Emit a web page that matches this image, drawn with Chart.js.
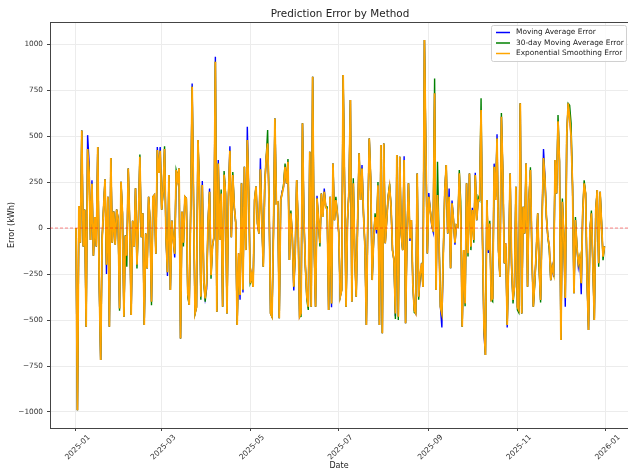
<!DOCTYPE html>
<html>
<head>
<meta charset="utf-8">
<script src="https://cdn.jsdelivr.net/npm/chart.js@4.4.1/dist/chart.umd.min.js"></script>
<style>
  html, body { margin: 0; padding: 0; background: #fff; }
  #chart { display: block; }
</style>
</head>
<body>
<canvas id="chart" width="628" height="472"></canvas>
<script>
// Errores diarios, 2025-01-01 .. 2025-12-31 (índice = día del año)
const maError = [
    0, -990, 120, -80, 530, -100, 100, -536, 505, 360,
    -65, 260, -150, 60, -100, 440, -300, -717, -60, 110,
    265, -250, 170, -536, 380, -80, 90, -90, 100, 50,
    -437, 252, 80, -482, -40, -150, 324, 20, -473, 40,
    -100, 216, -200, 40, 388, -50, 80, -527, -30, -220,
    170, 40, -400, 170, 180, -140, 440, 300, 440, 100,
    200, 430, -50, -260, 288, -337, 40, -60, -160, 315,
    260, 324, -600, 89, -80, 170, 160, -355, -418, 100,
    786, 130, -464, -430, 478, 224, -373, 255, -283, -382,
    -330, 40, 215, -256, -100, -50, 931, -455, 370, -65,
    188, -428, 290, 188, -464, 170, 445, -50, 288, 116,
    30, -527, -137, -390, 243, -350, 333, -120, 551, 188,
    -300, -250, -320, 152, 225, 25, -30, 379, 40, -210,
    233, 380, 460, 134, -464, -482, -30, 596, 134, 140,
    -491, 152, 200, 225, 333, 243, 360, -174, 80, -47,
    -340, -137, 261, 25, -482, -464, 569, 43, -210, -373,
    -428, 415, -428, 823, -83, -428, 175, 43, -83, 188,
    70, 215, 116, 98, -446, 170, -430, 351, 43, 152,
    80, -30, -373, -337, 832, 225, -428, 43, 200, 696,
    -400, 243, -140, -373, 43, 406, 152, 342, 80, -100,
    -527, 43, 487, 261, -283, -65, 60, -30, 233, -527,
    451, -572, 460, -83, 43, 170, 225, 116, -120, -174,
    -480, 397, -482, 388, -30, -120, 390, -518, -30, 243,
    -70, 43, -300, -446, -464, 297, -373, -280, -192, -320,
    1022, 406, -138, 190, 98, 15, -20, 732, -337, 180,
    -60, -428, -540, -137, 200, 342, -30, 215, -219, 150,
    43, -90, 16, 7, 297, 60, -536, -120, -410, 243,
    -137, 297, -101, 110, -65, 300, 43, 152, 152, 641,
    -65, -575, -690, 152, -135, 25, -391, -382, 350, 152,
    510, -120, -265, 605, 297, -192, -83, -540, -174, 297,
    -210, -391, -319, 225, -428, -446, 678, -464, 116, -30,
    351, -319, 152, 315, -137, -428, -283, -137, 80, -210,
    -391, 43, 430, 280, 60, -47, -101, -283, -210, -265,
    370, 188, 580, 360, -609, 143, -47, -428, 496, 678,
    600, 500, 225, -355, 43, -101, -210, -156, -360, 80,
    243, 188, -283, -554, -10, 80, -200, -500, 98, 206,
    -192, 197, 20, -156, -100
];

const ma30Error = [
    0, -990, 120, -80, 530, -100, 100, -536, 430, 300,
    -65, 240, -150, 60, -100, 440, -300, -717, -60, 110,
    265, -200, 170, -536, 380, -80, 90, -90, 100, 50,
    -450, 252, 80, -482, -40, -210, 324, 20, -473, 40,
    -100, 216, -220, 40, 400, -50, 80, -527, -30, -220,
    170, 40, -420, 170, 180, -140, 424, 300, 420, 100,
    200, 445, -50, -240, 288, -337, 40, -60, -140, 315,
    280, 324, -600, 89, -100, 170, 160, -375, -418, 100,
    768, 130, -464, -430, 478, 224, -390, 234, -283, -400,
    -300, 40, 197, -275, -100, -50, 904, -455, 351, -65,
    210, -428, 310, 188, -464, 170, 420, -50, 305, 116,
    30, -527, -155, -364, 243, -335, 333, -120, 478, 188,
    -300, -275, -320, 152, 225, 25, -30, 320, 40, -210,
    233, 380, 533, 134, -464, -482, -30, 596, 134, 140,
    -491, 152, 188, 240, 350, 243, 375, -174, 95, -47,
    -319, -137, 261, 25, -482, -480, 569, 43, -210, -390,
    -445, 415, -428, 823, -83, -428, 161, 43, -100, 188,
    60, 197, 116, 115, -446, 170, -410, 351, 43, 170,
    80, -30, -373, -337, 832, 225, -428, 43, 200, 696,
    -400, 270, -140, -373, 43, 406, 152, 324, 80, -100,
    -527, 43, 487, 261, -283, -65, 80, -10, 250, -527,
    451, -572, 460, -83, 43, 170, 240, 116, -120, -174,
    -495, 397, -500, 388, -30, -120, 370, -518, -30, 243,
    -57, 43, -300, -460, -464, 297, -390, -250, -210, -320,
    1022, 406, -138, 170, 98, 25, -20, 813, -337, 360,
    -30, -428, -464, -137, 200, 342, -30, 170, -219, 134,
    43, -80, 16, 7, 315, 143, -536, -120, -425, 243,
    -155, 297, -120, 98, -80, 288, 43, 170, 152, 705,
    -65, -540, -690, 152, -120, 40, -391, -400, 333, 170,
    487, -120, -265, 625, 297, -192, -100, -527, -174, 297,
    -192, -410, -319, 225, -445, -460, 678, -464, 116, -30,
    351, -319, 152, 330, -137, -428, -300, -137, 80, -225,
    -405, 43, 380, 261, 60, -47, -120, -283, -210, -247,
    370, 188, 614, 360, -609, 160, -47, -380, 496, 678,
    668, 569, 225, -355, 60, -101, -192, -156, -300, 80,
    260, 188, -283, -554, -10, 95, -200, -500, 98, 206,
    -210, 197, 35, -175, -100
];

const expError = [
    0, -990, 120, -80, 530, -100, 100, -536, 430, 300,
    -65, 240, -150, 60, -100, 440, -300, -717, -60, 110,
    265, -200, 170, -536, 380, -80, 90, -90, 100, 50,
    -437, 252, 80, -482, -40, -150, 324, 20, -473, 40,
    -100, 216, -200, 40, 388, -50, 80, -527, -30, -220,
    170, 40, -400, 170, 180, -140, 424, 300, 420, 100,
    200, 430, -50, -240, 288, -337, 40, -60, -140, 315,
    260, 324, -600, 89, -80, 170, 160, -355, -418, 100,
    768, 130, -464, -430, 478, 224, -373, 234, -283, -382,
    -300, 40, 197, -256, -100, -50, 904, -455, 351, -65,
    188, -428, 290, 188, -464, 170, 420, -50, 288, 116,
    30, -527, -137, -364, 243, -335, 333, -120, 478, 188,
    -300, -250, -320, 152, 225, 25, -30, 320, 40, -210,
    233, 380, 460, 134, -464, -482, -30, 596, 134, 140,
    -491, 152, 188, 225, 333, 243, 360, -174, 80, -47,
    -319, -137, 261, 25, -482, -464, 569, 43, -210, -373,
    -428, 415, -428, 823, -83, -428, 161, 43, -83, 188,
    60, 197, 116, 98, -446, 170, -410, 351, 43, 152,
    80, -30, -373, -337, 832, 225, -428, 43, 200, 696,
    -400, 243, -140, -373, 43, 406, 152, 324, 80, -100,
    -527, 43, 487, 261, -283, -65, 60, -10, 233, -527,
    451, -572, 460, -83, 43, 170, 225, 116, -120, -174,
    -464, 397, -482, 388, -30, -120, 370, -518, -30, 243,
    -57, 43, -300, -446, -464, 297, -373, -250, -192, -320,
    1022, 406, -138, 170, 98, 25, -20, 732, -337, 180,
    -60, -428, -464, -137, 200, 342, -30, 170, -219, 134,
    43, -80, 16, 7, 297, 60, -536, -120, -410, 243,
    -137, 297, -101, 98, -65, 288, 43, 152, 152, 641,
    -65, -540, -690, 152, -120, 25, -391, -382, 333, 152,
    487, -120, -265, 605, 297, -192, -83, -527, -174, 297,
    -192, -391, -319, 225, -428, -446, 678, -464, 116, -30,
    351, -319, 152, 315, -137, -428, -283, -137, 80, -210,
    -391, 43, 380, 261, 60, -47, -101, -283, -210, -247,
    370, 188, 580, 360, -609, 143, -47, -380, 496, 678,
    600, 500, 225, -355, 43, -101, -192, -156, -300, 80,
    243, 188, -283, -554, -10, 80, -200, -500, 98, 206,
    -192, 197, 20, -156, -100
];

// Marcas del eje X (días desde 2025-01-01) y sus etiquetas
const monthTicks = [0, 59, 120, 181, 243, 304, 365];
const monthLabels = ['2025-01', '2025-03', '2025-05', '2025-07', '2025-09', '2025-11', '2026-01'];
const yTicks = [-1000, -750, -500, -250, 0, 250, 500, 750, 1000];

const toPoints = arr => arr.map((v, i) => ({ x: i, y: v }));
const FONT = 'DejaVu Sans';

// Título, línea de cero, marco superior y leyenda
const extras = {
    id: 'extras',
    afterDatasetsDraw(chart) {
        const { ctx, chartArea: a, scales } = chart;
        const y0 = scales.y.getPixelForValue(0);
        ctx.save();
        ctx.strokeStyle = 'rgba(255,0,0,0.6)';
        ctx.lineWidth = 0.8;
        ctx.setLineDash([3, 2]);
        ctx.beginPath();
        ctx.moveTo(a.left, y0);
        ctx.lineTo(a.right, y0);
        ctx.stroke();
        ctx.setLineDash([]);

        ctx.strokeStyle = '#444';
        ctx.lineWidth = 1;
        ctx.beginPath();
        ctx.moveTo(a.left, a.top + 0.5);
        ctx.lineTo(a.right, a.top + 0.5);
        ctx.stroke();

        // título centrado sobre el área del gráfico
        ctx.fillStyle = '#222';
        ctx.font = '10.4px "' + FONT + '"';
        ctx.textAlign = 'center';
        ctx.textBaseline = 'middle';
        ctx.fillText('Prediction Error by Method', 340, 14);

        // leyenda
        const bx = 491, by = 25, bw = 135, bh = 36;
        ctx.fillStyle = 'rgba(255,255,255,0.85)';
        ctx.strokeStyle = '#d0d0d0';
        ctx.lineWidth = 1;
        ctx.beginPath();
        ctx.roundRect(bx + 0.5, by + 0.5, bw, bh, 2);
        ctx.fill();
        ctx.stroke();
        ctx.font = '7.4px "' + FONT + '"';
        ctx.textAlign = 'left';
        chart.data.datasets.forEach((ds, i) => {
            const ly = by + 7.5 + i * 10.5;
            ctx.strokeStyle = ds.borderColor;
            ctx.lineWidth = 1.5;
            ctx.beginPath();
            ctx.moveTo(bx + 5, ly);
            ctx.lineTo(bx + 19, ly);
            ctx.stroke();
            ctx.fillStyle = '#222';
            ctx.fillText(ds.label, bx + 25, ly);
        });
        ctx.restore();
    }
};

const ctx = document.getElementById('chart').getContext('2d');
const errorChart = new Chart(ctx, {
    type: 'line',
    data: {
        datasets: [
            {
                label: 'Moving Average Error',
                data: toPoints(maError),
                borderColor: '#0000ff',
                borderWidth: 1.4,
                pointRadius: 0,
                order: 3
            },
            {
                label: '30-day Moving Average Error',
                data: toPoints(ma30Error),
                borderColor: '#008000',
                borderWidth: 1.4,
                pointRadius: 0,
                order: 2
            },
            {
                label: 'Exponential Smoothing Error',
                data: toPoints(expError),
                borderColor: '#ffa500',
                borderWidth: 1.8,
                pointRadius: 0,
                order: 1
            }
        ]
    },
    options: {
        responsive: false,
        animation: false,
        devicePixelRatio: 1,
        layout: { padding: { left: 0, right: 0, top: 22, bottom: 0 } },
        scales: {
            x: {
                type: 'linear',
                min: -17.9,
                max: 380.2,
                afterBuildTicks: axis => {
                    axis.ticks = monthTicks.map(v => ({ value: v }));
                },
                afterFit: scale => { scale.height = 44; },
                ticks: {
                    autoSkip: false,
                    minRotation: 45,
                    maxRotation: 45,
                    padding: 2,
                    labelOffset: 13,
                    color: '#333',
                    font: { family: FONT, size: 7.6 },
                    callback: value => monthLabels[monthTicks.indexOf(value)]
                },
                grid: { color: '#ececec', tickColor: '#444', tickLength: 3 },
                border: { color: '#444' },
                title: {
                    display: true,
                    text: 'Date',
                    color: '#222',
                    font: { family: FONT, size: 8 },
                    padding: { top: 0, bottom: 1 }
                }
            },
            y: {
                min: -1087,
                max: 1120,
                afterBuildTicks: axis => {
                    axis.ticks = yTicks.map(v => ({ value: v }));
                },
                afterFit: scale => { scale.width = 50; },
                ticks: {
                    padding: 4,
                    color: '#333',
                    font: { family: FONT, size: 7.3 },
                    callback: value => String(value).replace('-', '\u2212')
                },
                grid: { color: '#ececec', tickColor: '#444', tickLength: 3 },
                border: { color: '#444' },
                title: {
                    display: true,
                    text: 'Error (kWh)',
                    color: '#222',
                    font: { family: FONT, size: 8 },
                    padding: { top: 7, bottom: 4 }
                }
            }
        },
        plugins: {
            legend: { display: false },
            tooltip: { enabled: false },
            title: { display: false }
        }
    },
    plugins: [extras]
});
</script>
</body>
</html>
